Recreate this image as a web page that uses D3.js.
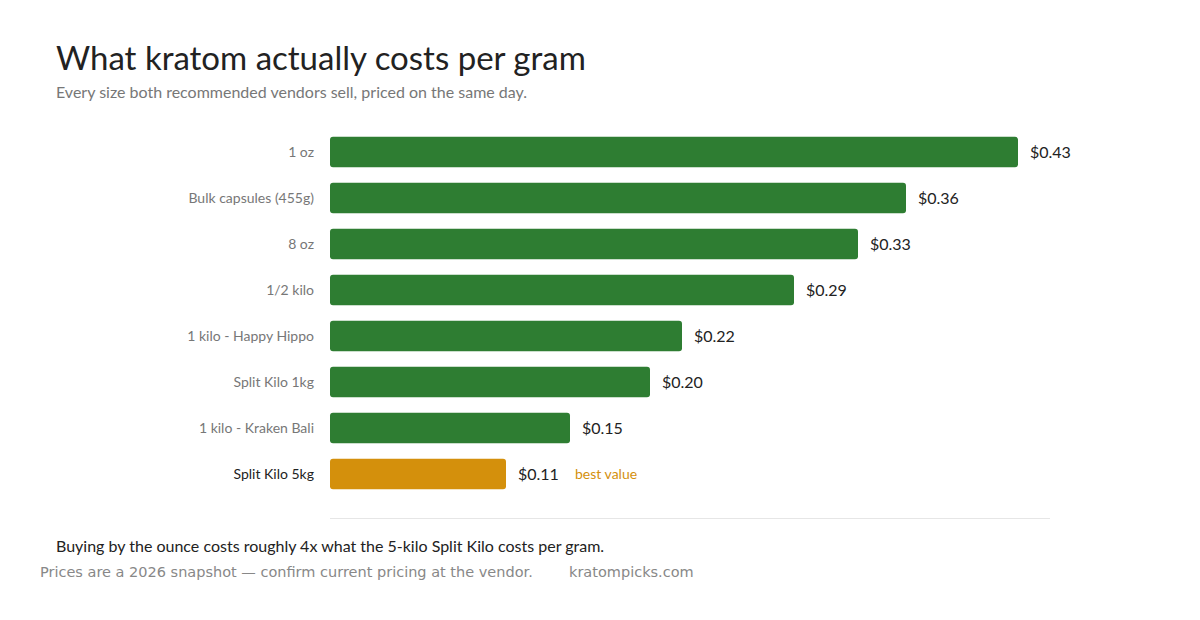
<!DOCTYPE html>
<html><head><meta charset="utf-8">
<script src="https://cdn.jsdelivr.net/npm/d3@7"></script>
<style>body{margin:0;background:#fff}</style>
</head><body>
<script>
// price per gram by pack size
const sizes = ["1 oz", "Bulk capsules (455g)", "8 oz", "1/2 kilo", "1 kilo - Happy Hippo", "Split Kilo 1kg", "1 kilo - Kraken Bali", "Split Kilo 5kg"];
const prices = [0.43, 0.36, 0.33, 0.29, 0.22, 0.20, 0.15, 0.11];
const bestIndex = 7;

const width = 1200, height = 620;
const svg = d3.select("body").append("svg").attr("width", width).attr("height", height)
  .style("font-family", "Lato, 'Open Sans', sans-serif");

svg.append("text").attr("x", 56).attr("y", 70).attr("font-size", 33).attr("fill", "#222")
  .text("What kratom actually costs per gram");
svg.append("text").attr("x", 56).attr("y", 98).attr("font-size", 16).attr("fill", "#777")
  .text("Every size both recommended vendors sell, priced on the same day.");

const x = d3.scaleLinear().domain([0, 0.43]).range([330, 1018]);
const y = d3.scaleBand().domain(sizes).range([129, 497]).paddingInner(0.34).paddingOuter(0.17);

const g = svg.append("g");
const rows = g.selectAll("g.row").data(sizes).enter().append("g");

rows.append("rect")
  .attr("x", x(0)).attr("y", d => y(d)).attr("height", y.bandwidth())
  .attr("width", (d, i) => x(prices[i]) - x(0)).attr("rx", 3)
  .attr("fill", (d, i) => i === bestIndex ? "#d4900c" : "#2e7d32");

rows.append("text").attr("x", 314).attr("y", d => y(d) + y.bandwidth() / 2).attr("dy", "0.35em")
  .attr("text-anchor", "end").attr("font-size", 14)
  .attr("fill", (d, i) => i === bestIndex ? "#222" : "#777").text(d => d);

rows.append("text").attr("x", (d, i) => x(prices[i]) + 12).attr("y", d => y(d) + y.bandwidth() / 2)
  .attr("dy", "0.35em").attr("font-size", 16).attr("fill", "#222")
  .text((d, i) => "$" + prices[i].toFixed(2));

svg.append("text").attr("x", x(prices[bestIndex]) + 69).attr("y", y(sizes[bestIndex]) + y.bandwidth() / 2)
  .attr("dy", "0.35em").attr("font-size", 14).attr("fill", "#d4900c").text("best value");

svg.append("line").attr("x1", 330).attr("x2", 1050).attr("y1", 518.5).attr("y2", 518.5)
  .attr("stroke", "#e6e6e6");

svg.append("text").attr("x", 56).attr("y", 552).attr("font-size", 16).attr("fill", "#222")
  .text("Buying by the ounce costs roughly 4x what the 5-kilo Split Kilo costs per gram.");
svg.append("text").attr("x", 40).attr("y", 577).attr("font-size", 14.5).attr("fill", "#888")
  .style("font-family", "'DejaVu Sans', sans-serif")
  .text("Prices are a 2026 snapshot \u2014 confirm current pricing at the vendor.");
svg.append("text").attr("x", 569).attr("y", 577).attr("font-size", 14.5).attr("fill", "#888")
  .style("font-family", "'DejaVu Sans', sans-serif").text("kratompicks.com");
</script>
</body></html>
